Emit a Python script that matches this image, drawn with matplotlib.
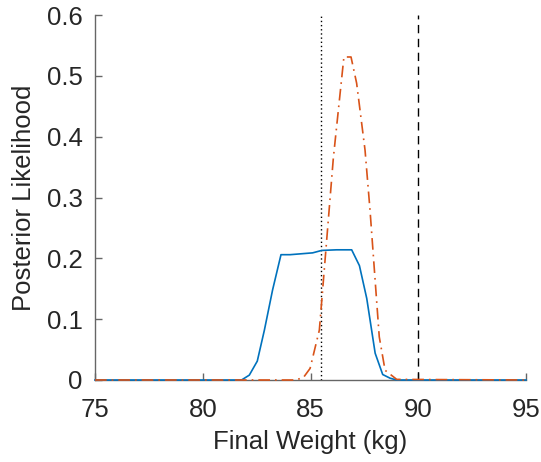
import matplotlib
matplotlib.use('Agg')
import matplotlib.pyplot as plt

plt.rcParams['font.family'] = ['Liberation Sans', 'DejaVu Sans']

# posterior curves
x_blue = [75, 81.8, 82.16, 82.53, 82.86, 83.24, 83.63, 84.05, 85.1, 85.52, 86.21, 86.91,
          87.27, 87.61, 88.0, 88.35, 88.69, 89.0, 95]
y_blue = [0, 0, 0.008, 0.031, 0.082, 0.148, 0.206, 0.206, 0.209, 0.213, 0.214, 0.214,
          0.188, 0.134, 0.044, 0.009, 0.003, 0, 0]

x_orange = [75, 84.3, 84.67, 84.98, 85.41, 85.59, 86.06, 86.55, 86.88, 87.14, 87.53,
            87.76, 88.19, 88.46, 89.0, 95]
y_orange = [0, 0, 0.004, 0.019, 0.082, 0.16, 0.365, 0.531, 0.531, 0.488, 0.378,
            0.28, 0.071, 0.016, 0.001, 0]

start_weight = 85.5
target_weight = 90

x_ticks = [75, 80, 85, 90, 95]
y_ticks = [0, 0.1, 0.2, 0.3, 0.4, 0.5, 0.6]

axis_color = (0.4, 0.4, 0.4)
text_color = (0.15, 0.15, 0.15)

fig = plt.figure(figsize=(5.41, 4.62), dpi=100)
ax = fig.add_axes([0.1756, 0.1775, 0.7967, 0.79])

ax.plot(x_blue, y_blue, color='#0072BD', linewidth=1.2, clip_on=False, zorder=3)
ax.plot(x_orange, y_orange, color='#D95319', linewidth=1.2, linestyle=(0, (7, 3, 1, 3)),
        clip_on=False, zorder=3.1)
ax.axvline(start_weight, color='black', linewidth=1.0, linestyle=(0, (1, 2)))
ax.axvline(target_weight, color='black', linewidth=1.0, linestyle=(0, (6, 4)))

ax.set_xlim(75, 95)
ax.set_ylim(0, 0.6)
ax.set_xticks(x_ticks)
ax.set_yticks(y_ticks)
ax.set_xticklabels([str(t) for t in x_ticks])
ax.set_yticklabels(['0', '0.1', '0.2', '0.3', '0.4', '0.5', '0.6'])

ax.spines['top'].set_visible(False)
ax.spines['right'].set_visible(False)
for side in ['left', 'bottom']:
    ax.spines[side].set_color(axis_color)
    ax.spines[side].set_linewidth(1.0)
ax.tick_params(direction='in', length=5, width=1.0, color=axis_color,
               labelcolor=text_color, labelsize=18.5)
ax.tick_params(axis='x', pad=13)
ax.tick_params(axis='y', pad=9)

ax.set_xlabel('Final Weight (kg)', fontsize=18.5, color=text_color, labelpad=6)
ax.set_ylabel('Posterior Likelihood', fontsize=18.5, color=text_color, labelpad=8)

fig.savefig('out.png', dpi=100)
